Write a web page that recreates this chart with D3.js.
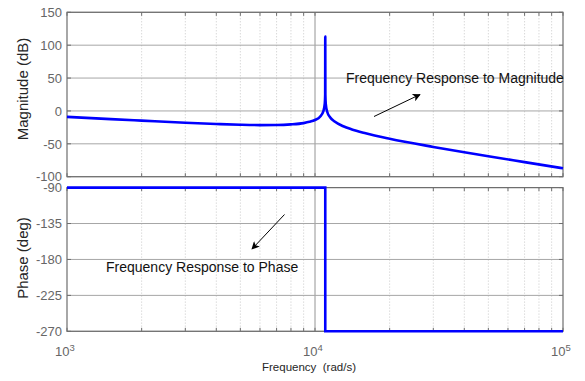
<!DOCTYPE html>
<html>
<head>
<meta charset="utf-8">
<script src="https://cdn.jsdelivr.net/npm/d3@7"></script>
<style>
  html, body { margin: 0; padding: 0; background: #fff; }
  svg { display: block; font-family: "Liberation Sans", Arial, Helvetica, sans-serif; }
</style>
</head>
<body>
<svg id="chart" width="585" height="381"></svg>
<script>
// Bode plot: magnitude (dB) and phase (deg) against frequency (rad/s)
const magFreq = [1000, 1500, 2000, 3000, 4000, 5000, 6000, 7000, 8000, 9000, 9500, 10000,
                 10500, 10800, 10950, 10990, 11000, 11010, 11050, 11200, 11500, 12000, 13000,
                 14000, 16000, 20000, 30000, 40000, 50000, 70000, 100000];
const magDb = [-9.0, -12.4, -14.7, -17.9, -19.8, -21.0, -21.5, -21.4, -20.5, -18.5, -16.6, -13.8,
               -8.4, -0.8, 11.1, 25, 113, 25, 10.9, -1.3, -9.6, -16.2, -23.2,
               -27.8, -34.0, -42.3, -54.7, -62.8, -68.9, -77.8, -87.2];

const phaseFreq = [1000, 11000, 11000, 100000];
const phaseDeg = [-90, -90, -270, -270];

const magTicks = [150, 100, 50, 0, -50, -100];
const phaseTicks = [-90, -135, -180, -225, -270];
const decadeTicks = [1e3, 1e4, 1e5];
const decadeExp = ["3", "4", "5"];
const minorFreqs = [2e3, 3e3, 4e3, 5e3, 6e3, 7e3, 8e3, 9e3, 2e4, 3e4, 4e4, 5e4, 6e4, 7e4, 8e4, 9e4];

const svg = d3.select("#chart");

const left = 67, right = 563;
const x = d3.scaleLog().domain([1e3, 1e5]).range([left, right]);
const yMag = d3.scaleLinear().domain([-100, 150]).range([176.7, 12.3]);
const yPh = d3.scaleLinear().domain([-270, -90]).range([331.3, 187.6]);

const gridCol = "#a6a6a6", minorCol = "#c8c8c8", frameCol = "#6e6e6e", tickTextCol = "#666666";

function panel(y, ticks) {
  const g = svg.append("g");
  const [y0, y1] = [y.range()[1], y.range()[0]];
  // minor vertical grid (dotted)
  g.selectAll("line.minor").data(minorFreqs).enter().append("line")
    .attr("x1", d => x(d)).attr("x2", d => x(d))
    .attr("y1", y0).attr("y2", y1)
    .attr("stroke", minorCol).attr("stroke-width", 1).attr("stroke-dasharray", "1,2");
  // major vertical grid at decades
  g.selectAll("line.dec").data([1e4]).enter().append("line")
    .attr("x1", d => x(d)).attr("x2", d => x(d))
    .attr("y1", y0).attr("y2", y1)
    .attr("stroke", "#949494").attr("stroke-width", 1);
  // horizontal grid
  g.selectAll("line.h").data(ticks).enter().append("line")
    .attr("x1", left).attr("x2", right)
    .attr("y1", d => y(d)).attr("y2", d => y(d))
    .attr("stroke", gridCol).attr("stroke-width", 1);
  // inner ticks along top and bottom edges
  const allX = minorFreqs.concat(decadeTicks);
  [y0, y1].forEach((ey, i) => {
    g.selectAll(null).data(allX).enter().append("line")
      .attr("x1", d => x(d)).attr("x2", d => x(d))
      .attr("y1", ey).attr("y2", i === 0 ? ey + 3.5 : ey - 3.5)
      .attr("stroke", frameCol).attr("stroke-width", 1);
  });
  // inner ticks along left and right edges
  [left, right].forEach((ex, i) => {
    g.selectAll(null).data(ticks).enter().append("line")
      .attr("x1", ex).attr("x2", i === 0 ? ex + 4 : ex - 4)
      .attr("y1", d => y(d)).attr("y2", d => y(d))
      .attr("stroke", frameCol).attr("stroke-width", 1);
  });
  // frame
  g.append("rect").attr("x", left).attr("y", y0)
    .attr("width", right - left).attr("height", y1 - y0)
    .attr("fill", "none").attr("stroke", frameCol).attr("stroke-width", 1.2);
  // y tick labels
  g.selectAll("text.yt").data(ticks).enter().append("text")
    .attr("x", left - 5).attr("y", d => y(d)).attr("dy", "0.36em")
    .attr("text-anchor", "end").attr("font-size", 13).attr("fill", tickTextCol)
    .text(d => d);
  return g;
}

panel(yMag, magTicks);
panel(yPh, phaseTicks);

// magnitude curve
const magLine = d3.line()
  .x((d, i) => x(magFreq[i])).y(d => yMag(d))
  .curve(d3.curveMonotoneX);
svg.append("path").datum(magDb).attr("d", magLine)
  .attr("fill", "none").attr("stroke", "#0000ff").attr("stroke-width", 2.6)
  .attr("stroke-linejoin", "round");

// phase curve
const phLine = d3.line()
  .x((d, i) => x(phaseFreq[i])).y(d => yPh(d));
svg.append("path").datum(phaseDeg).attr("d", phLine)
  .attr("fill", "none").attr("stroke", "#0000ff").attr("stroke-width", 2.6);

// x tick labels 10^n
const xl = svg.selectAll("text.xt").data(decadeTicks).enter().append("text")
  .attr("x", d => x(d) - 2).attr("y", 356)
  .attr("text-anchor", "middle").attr("font-size", 13).attr("fill", tickTextCol);
xl.append("tspan").text("10");
xl.append("tspan").attr("dy", "-0.5em").attr("font-size", 9.5).text((d, i) => decadeExp[i]);

// axis titles
svg.append("text").attr("transform", "translate(28,89) rotate(-90)")
  .attr("text-anchor", "middle").attr("font-size", 15).attr("fill", "#262626")
  .text("Magnitude (dB)");
svg.append("text").attr("transform", "translate(28,258) rotate(-90)")
  .attr("text-anchor", "middle").attr("font-size", 15).attr("fill", "#262626")
  .text("Phase (deg)");
svg.append("text").attr("x", 309).attr("y", 371)
  .attr("text-anchor", "middle").attr("font-size", 11.5).attr("fill", "#262626")
  .attr("xml:space", "preserve")
  .text("Frequency  (rad/s)");

// annotations with arrows
const defs = svg.append("defs");
defs.append("marker").attr("id", "head").attr("viewBox", "0 0 10 10")
  .attr("refX", 9).attr("refY", 5).attr("markerWidth", 10).attr("markerHeight", 8)
  .attr("markerUnits", "userSpaceOnUse").attr("orient", "auto")
  .append("path").attr("d", "M0,0 L10,5 L0,10 L2.5,5 Z").attr("fill", "#000");

svg.append("text").attr("x", 346).attr("y", 82.5).attr("font-size", 14).attr("fill", "#111")
  .text("Frequency Response to Magnitude");
svg.append("line").attr("x1", 374).attr("y1", 116.5).attr("x2", 420).attr("y2", 94.5)
  .attr("stroke", "#000").attr("stroke-width", 1).attr("marker-end", "url(#head)");

svg.append("text").attr("x", 106).attr("y", 272).attr("font-size", 14).attr("fill", "#111")
  .text("Frequency Response to Phase");
svg.append("line").attr("x1", 284.5).attr("y1", 214.5).attr("x2", 252).attr("y2", 249)
  .attr("stroke", "#000").attr("stroke-width", 1).attr("marker-end", "url(#head)");
</script>
</body>
</html>
